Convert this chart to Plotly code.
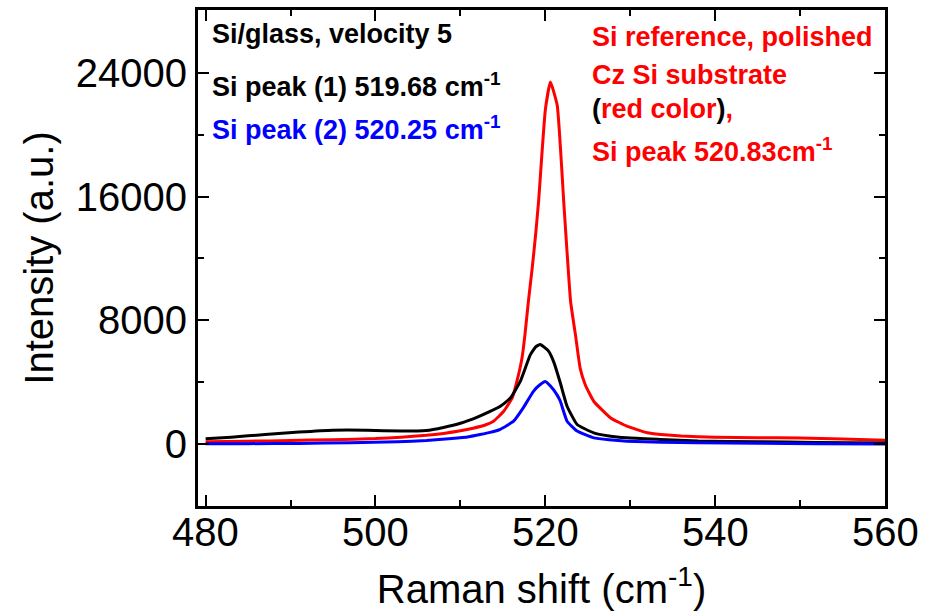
import plotly.graph_objects as go

# ---- data ----
red_x = [480, 485, 490, 495, 500, 503, 506, 508, 510, 511.5, 513, 513.9, 515.1, 516.1, 516.65,
         517.25, 517.6, 518.0, 518.45, 518.85, 519.2, 520.0, 520.6, 521.4, 522.2, 522.98, 523.55,
         524.1, 524.7, 525.7, 527.7, 529.6, 532, 533.6, 536, 540, 545, 550, 555, 560]
red_y = [150, 190, 230, 290, 360, 450, 570, 690, 860, 1030, 1250, 1480, 2120, 2980, 4050,
         5550, 7060, 9200, 11350, 13500, 15640, 21600, 23400, 21900, 15400, 9200, 7060,
         4910, 3840, 2770, 1690, 1160, 730, 620, 520, 450, 410, 400, 330, 250]

black_x = [480, 483, 487, 491, 495, 499, 503, 506, 508, 510, 512, 513.5, 514.7, 515.9, 517.05,
           518.23, 518.9, 519.4, 519.9, 520.4, 521.0, 521.77, 522.56, 523.74, 525.7, 527.5,
           529.6, 533.6, 538, 545, 552, 560]
black_y = [340, 450, 620, 780, 900, 900, 840, 880, 1080, 1350, 1750, 2120, 2450, 2980, 4050,
           5770, 6300, 6440, 6250, 6000, 5300, 3950, 2450, 1270, 730, 530,
           405, 300, 200, 150, 110, 80]

blue_x = [480, 485, 491, 497, 502.6, 506, 509, 511, 512.3, 513.5, 514.7, 516.26, 517.4, 518.6,
          519.4, 520.0, 520.6, 521.36, 521.77, 522.56, 523.74, 525.7, 527.5, 529.6, 533.6,
          538, 545, 552, 560]
blue_y = [20, 30, 45, 90, 150, 230, 360, 480, 620, 760, 960, 1480, 2340, 3410,
          3850, 4050, 3750, 3200, 2770, 1480, 840, 405, 280, 190, 120,
          90, 60, 30, 0]

x_ticks = [480, 500, 520, 540, 560]
y_ticks = [0, 8000, 16000, 24000]

FONT = "Liberation Sans, Arial, sans-serif"

fig = go.Figure()
for xs, ys, col in [(red_x, red_y, "#ff0000"), (black_x, black_y, "#000000"), (blue_x, blue_y, "#0000ff")]:
    fig.add_trace(go.Scatter(x=xs, y=ys, mode="lines",
                             line=dict(color=col, width=3, shape="spline", smoothing=0.4),
                             showlegend=False, hoverinfo="skip"))

axis_common = dict(showline=True, linecolor="black", linewidth=3, mirror="ticks",
                   ticks="inside", ticklen=11, tickwidth=2, tickcolor="black",
                   showgrid=False, zeroline=False,
                   tickfont=dict(family=FONT, size=40, color="black"))

fig.update_xaxes(range=[479.1, 560], tickvals=x_ticks, showticklabels=False,
                 minor=dict(ticks="inside", ticklen=6, tickwidth=2, tickcolor="black",
                            tick0=480, dtick=10, showgrid=False),
                 title=dict(text="Raman shift (cm<sup>-1</sup>)",
                            font=dict(family=FONT, size=40, color="black"), standoff=67),
                 **axis_common)
fig.update_yaxes(range=[-4000, 28060], tickvals=y_ticks, ticktext=[str(v) for v in y_ticks],
                 minor=dict(ticks="inside", ticklen=6, tickwidth=2, tickcolor="black",
                            tick0=0, dtick=4000, showgrid=False),
                 title=dict(text="Intensity (a.u.)",
                            font=dict(family=FONT, size=40, color="black"), standoff=10),
                 **axis_common)

# x tick labels, placed a little closer to the axis than Plotly's default
for v in x_ticks:
    fig.add_annotation(text=str(v), x=v, y=0, xref="x", yref="paper",
                       xanchor="center", yanchor="middle", yshift=-26, showarrow=False,
                       font=dict(family=FONT, size=40, color="black"))

ann_font = dict(family=FONT, size=27)

def px2paper(px, py):
    return (px - 198) / 687, (506 - py) / 499

annots = [
    ("<b>Si/glass, velocity 5</b>", 210, 31, "black"),
    ("<b>Si peak (1) 519.68 cm<sup>-1</sup></b>", 210, 82, "black"),
    ("<b>Si peak (2) 520.25 cm<sup>-1</sup></b>", 210, 126, "#0000ff"),
    ("<b>Si reference, polished</b>", 590, 34, "#ff0000"),
    ("<b>Cz Si substrate</b>", 590, 72, "#ff0000"),
    ("<b><span style='color:black'>(</span>red color<span style='color:black'>)</span>,</b>", 590, 107, "#ff0000"),
    ("<b>Si peak 520.83cm<sup>-1</sup></b>", 590, 148, "#ff0000"),
]
for text, px, py, col in annots:
    ax_, ay_ = px2paper(px, py)
    fig.add_annotation(text=text, x=ax_, y=ay_, xref="paper", yref="paper",
                       xanchor="left", yanchor="middle", showarrow=False,
                       font=dict(color=col, **ann_font))

fig.update_layout(width=930, height=612, plot_bgcolor="white", paper_bgcolor="white",
                  margin=dict(l=198, r=45, t=7, b=106),
                  font=dict(family=FONT, color="black"))

fig.write_html("out.html")
